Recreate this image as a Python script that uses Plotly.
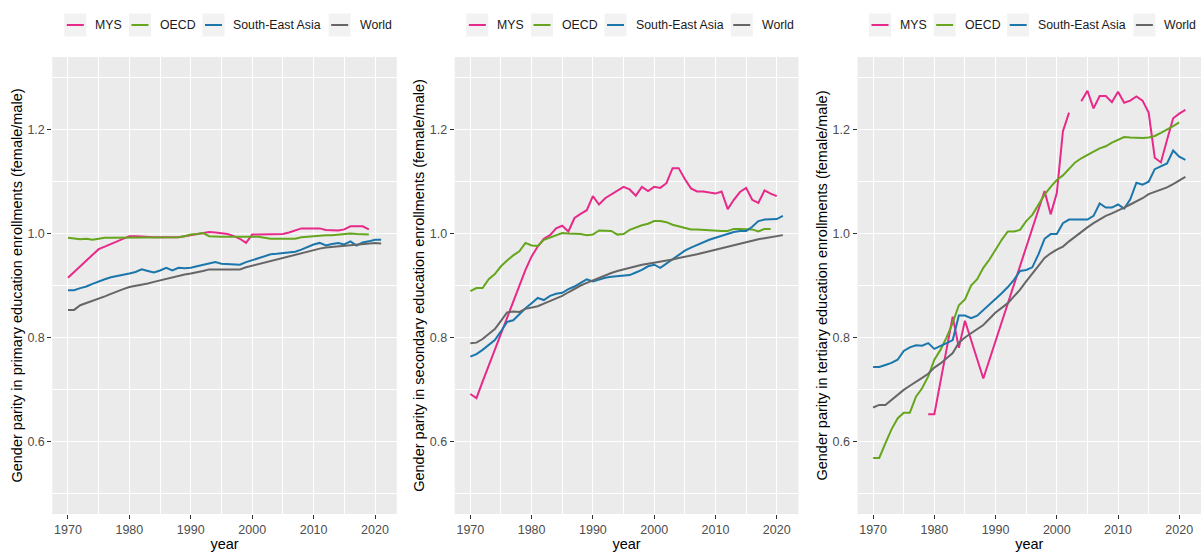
import plotly.graph_objects as go

# ---------------------------------------------------------------- data
series_names = ["MYS", "OECD", "South-East Asia", "World"]
series_colors = ["#E7298A", "#66A61E", "#1B76AB", "#666666"]

years_1970_2019 = list(range(1970, 2020))
years_1970_2020 = list(range(1970, 2021))
years_1970_2021 = list(range(1970, 2022))

# Primary education: female/male enrolment ratio
mys_primary = [
    0.915, 0.926, 0.937, 0.948, 0.959, 0.970, 0.975, 0.980, 0.984, 0.989,
    0.995, 0.995, 0.994, 0.993, 0.993, 0.993, 0.993, 0.993, 0.993, 0.995,
    0.997, 1.000, 1.002, 1.003, 1.002, 1.001, 0.999, 0.995, 0.990, 0.982,
    0.998, 0.998, 0.998, 0.998, 0.998, 0.999, 1.002, 1.006, 1.010, 1.010,
    1.010, 1.010, 1.007, 1.006, 1.006, 1.008, 1.014, 1.014, 1.014, 1.008,
]
oecd_primary = [
    0.992, 0.991, 0.989, 0.990, 0.988, 0.990, 0.992, 0.992, 0.992, 0.992,
    0.993, 0.993, 0.993, 0.993, 0.993, 0.993, 0.993, 0.993, 0.993, 0.995,
    0.998, 0.999, 1.001, 0.995, 0.994, 0.994, 0.994, 0.994, 0.994, 0.994,
    0.994, 0.994, 0.992, 0.990, 0.990, 0.990, 0.990, 0.990, 0.993, 0.994,
    0.996, 0.996, 0.997, 0.997, 0.998, 1.000, 1.000, 0.999, 0.998, 0.998,
]
sea_primary = [
    0.891, 0.891, 0.895, 0.898, 0.903, 0.908, 0.912, 0.916, 0.918, 0.920,
    0.923, 0.926, 0.931, 0.928, 0.925, 0.929, 0.934, 0.929, 0.934, 0.933,
    0.934, 0.937, 0.940, 0.943, 0.945, 0.942, 0.941, 0.940, 0.940, 0.945,
    0.949, 0.953, 0.956, 0.960, 0.961, 0.962, 0.963, 0.965, 0.969, 0.974,
    0.979, 0.982, 0.977, 0.980, 0.982, 0.979, 0.985, 0.977, 0.983, 0.985,
    0.988, 0.988,
]
world_primary = [
    0.853, 0.853, 0.862, 0.866, 0.870, 0.874, 0.879, 0.884, 0.889, 0.893,
    0.897, 0.899, 0.902, 0.904, 0.907, 0.910, 0.913, 0.916, 0.919, 0.921,
    0.923, 0.925, 0.928, 0.931, 0.931, 0.931, 0.931, 0.931, 0.931, 0.935,
    0.938, 0.941, 0.945, 0.948, 0.951, 0.954, 0.957, 0.960, 0.963, 0.966,
    0.969, 0.971, 0.973, 0.974, 0.975, 0.976, 0.977, 0.978, 0.979, 0.981,
    0.982, 0.981,
]

# Secondary education
mys_secondary = [
    0.691, 0.683, 0.715, 0.746, 0.777, 0.809, 0.840, 0.871, 0.900, 0.930,
    0.956, 0.975, 0.990, 0.997, 1.010, 1.015, 1.004, 1.030, 1.038, 1.045,
    1.072, 1.056, 1.068, 1.075, 1.082, 1.090, 1.085, 1.073, 1.090, 1.082,
    1.090, 1.088, 1.097, 1.126, 1.126, 1.105, 1.087, 1.081, 1.081, 1.079,
    1.077, 1.081, 1.047, 1.065, 1.080, 1.088, 1.065, 1.059, 1.083, 1.077,
    1.072,
]
oecd_secondary = [
    0.889, 0.895, 0.895, 0.912, 0.922, 0.937, 0.948, 0.958, 0.966, 0.982,
    0.977, 0.976, 0.988, 0.992, 0.997, 1.001, 1.000, 1.000, 0.999, 0.997,
    0.998, 1.006, 1.006, 1.005, 0.998, 0.999, 1.007, 1.012, 1.016, 1.019,
    1.024, 1.024, 1.022, 1.017, 1.014, 1.010, 1.008, 1.008, 1.007, 1.006,
    1.005, 1.005, 1.005, 1.009, 1.009, 1.009, 1.008, 1.004, 1.009, 1.009,
]
sea_secondary = [
    0.763, 0.768, 0.776, 0.785, 0.795, 0.812, 0.830, 0.833, 0.845, 0.856,
    0.866, 0.876, 0.872, 0.880, 0.884, 0.886, 0.893, 0.898, 0.905, 0.912,
    0.908, 0.912, 0.915, 0.917, 0.918, 0.920, 0.920, 0.925, 0.930, 0.937,
    0.940, 0.934, 0.942, 0.950, 0.958, 0.967, 0.973, 0.978, 0.984, 0.988,
    0.992, 0.996, 1.000, 1.003, 1.005, 1.005, 1.013, 1.024, 1.027, 1.027,
    1.028, 1.034,
]
world_secondary = [
    0.789, 0.790, 0.797, 0.806, 0.816, 0.832, 0.848, 0.850, 0.849, 0.855,
    0.858, 0.860, 0.865, 0.870, 0.874, 0.880, 0.887, 0.894, 0.900, 0.905,
    0.910, 0.915, 0.920, 0.924, 0.928, 0.931, 0.935, 0.937, 0.940, 0.942,
    0.944, 0.945, 0.947, 0.950, 0.953, 0.955, 0.957, 0.960, 0.963, 0.966,
    0.969, 0.972, 0.975, 0.978, 0.981, 0.984, 0.986, 0.989, 0.991, 0.993,
    0.995, 0.997,
]

# Tertiary education (Malaysia has gaps in its record)
mys_tertiary_years = [
    1979, 1980, 1983, 1984, 1985, 1988, 1998, 1999, 2000, 2001, 2002, 2003,
    2004, 2005, 2006, 2007, 2008, 2009, 2010, 2011, 2012, 2013, 2014, 2015,
    2016, 2017, 2018, 2019, 2020, 2021,
]
mys_tertiary = [
    0.652, 0.652, 0.840, 0.780, 0.832, 0.721, 1.082, 1.037, 1.078, 1.197,
    1.233, None, 1.255, 1.275, 1.241, 1.265, 1.265, 1.253, 1.273, 1.252,
    1.256, 1.264, 1.256, 1.233, 1.146, 1.137, 1.180, 1.222, 1.231, 1.238,
]
oecd_tertiary = [
    0.568, 0.568, 0.596, 0.623, 0.644, 0.655, 0.655, 0.686, 0.702, 0.725,
    0.757, 0.776, 0.800, 0.828, 0.862, 0.873, 0.900, 0.912, 0.934, 0.950,
    0.969, 0.988, 1.004, 1.004, 1.007, 1.024, 1.036, 1.055, 1.075, 1.090,
    1.103, 1.112, 1.125, 1.137, 1.145, 1.152, 1.158, 1.164, 1.168, 1.175,
    1.181, 1.186, 1.185, 1.184, 1.184, 1.185, 1.188, 1.194, 1.200, 1.207,
    1.214,
]
sea_tertiary = [
    0.743, 0.743, 0.747, 0.751, 0.757, 0.774, 0.781, 0.785, 0.784, 0.789,
    0.778, 0.783, 0.789, 0.795, 0.842, 0.842, 0.837, 0.842, 0.853, 0.863,
    0.873, 0.885, 0.897, 0.911, 0.928, 0.930, 0.935, 0.960, 0.990, 0.999,
    0.999, 1.020, 1.027, 1.027, 1.027, 1.027, 1.034, 1.058, 1.050, 1.050,
    1.056, 1.048, 1.066, 1.098, 1.094, 1.100, 1.124, 1.130, 1.135, 1.160,
    1.148, 1.142,
]
world_tertiary = [
    0.665, 0.670, 0.670, 0.680, 0.690, 0.699, 0.707, 0.714, 0.722, 0.730,
    0.742, 0.750, 0.760, 0.770, 0.790, 0.800, 0.808, 0.816, 0.824, 0.836,
    0.848, 0.857, 0.866, 0.879, 0.892, 0.908, 0.924, 0.938, 0.953, 0.962,
    0.969, 0.975, 0.985, 0.994, 1.004, 1.012, 1.020, 1.027, 1.034, 1.039,
    1.044, 1.050, 1.056, 1.062, 1.068, 1.076, 1.080, 1.085, 1.089, 1.095,
    1.102, 1.109,
]

panel_titles = [
    "Gender parity in primary education enrollments (female/male)",
    "Gender parity in secondary education enrollments (female/male)",
    "Gender parity in tertiary education enrollments (female/male)",
]
x_ticks = [1970, 1980, 1990, 2000, 2010, 2020]
y_ticks = [0.6, 0.8, 1.0, 1.2]
y_tick_labels = ["0.6", "0.8", "1.0", "1.2"]
y_minor = [0.5, 0.7, 0.9, 1.1, 1.3]

panels = [
    [
        (years_1970_2019, mys_primary),
        (years_1970_2019, oecd_primary),
        (years_1970_2021, sea_primary),
        (years_1970_2021, world_primary),
    ],
    [
        (years_1970_2020, mys_secondary),
        (years_1970_2019, oecd_secondary),
        (years_1970_2021, sea_secondary),
        (years_1970_2021, world_secondary),
    ],
    [
        (mys_tertiary_years, mys_tertiary),
        (years_1970_2020, oecd_tertiary),
        (years_1970_2021, sea_tertiary),
        (years_1970_2021, world_tertiary),
    ],
]

# ---------------------------------------------------------------- helpers
W, H = 1201, 552
FONT = "Liberation Sans, Arial, sans-serif"

# Arial / Liberation Sans advance widths (em) for the legend labels
_ADV = {
    "M": 0.833, "Y": 0.667, "S": 0.667, "O": 0.778, "E": 0.667, "C": 0.722,
    "D": 0.722, "W": 0.944, "A": 0.667, "o": 0.556, "u": 0.556, "t": 0.278,
    "h": 0.556, "-": 0.333, "a": 0.556, "s": 0.5, " ": 0.278, "i": 0.222,
    "r": 0.333, "l": 0.222, "d": 0.556,
}


def text_width(s, size):
    return sum(_ADV.get(c, 0.556) for c in s) * size


# ---------------------------------------------------------------- figure
x_domains = [(52.3, 396.8), (454.7, 798.5), (857.5, 1201.0)]
y_domain = [(H - 514) / H, (H - 57) / H]

LEG_SIZE = 12.3
KEY_W, KEY_H = 22, 23
KEY_GAP, ITEM_GAP = 8, 8
LEG_Y = 25

fig = go.Figure()
shapes, annotations = [], []

for p, traces in enumerate(panels):
    suffix = "" if p == 0 else str(p + 1)
    for (xs, ys), name, color in zip(traces, series_names, series_colors):
        fig.add_trace(go.Scatter(
            x=xs, y=ys, name=name, mode="lines",
            line=dict(color=color, width=2),
            connectgaps=False, showlegend=False,
            xaxis="x" + suffix, yaxis="y" + suffix,
        ))

    x0, x1 = x_domains[p]
    fig.layout["xaxis" + suffix] = dict(
        domain=[x0 / W, x1 / W], anchor="y" + suffix,
        range=[1967.45, 2023.55], tickvals=x_ticks,
        ticks="outside", ticklen=4, tickcolor="#333333", tickwidth=1,
        tickfont=dict(size=12.5, color="#4D4D4D", family=FONT),
        showgrid=True, gridcolor="white", gridwidth=1.1,
        minor=dict(dtick=5, tick0=1965, showgrid=True, gridcolor="white",
                   gridwidth=0.55, ticks=""),
        zeroline=False, showline=False,
        title=dict(text="year", font=dict(size=14.5, color="black", family=FONT),
                   standoff=2),
        automargin=False, fixedrange=True,
    )
    fig.layout["yaxis" + suffix] = dict(
        domain=y_domain, anchor="x" + suffix,
        range=[0.46, 1.34], tickvals=y_ticks, ticktext=y_tick_labels,
        ticks="outside", ticklen=4, tickcolor="#333333", tickwidth=1,
        tickfont=dict(size=12.5, color="#4D4D4D", family=FONT),
        showgrid=True, gridcolor="white", gridwidth=1.1,
        minor=dict(tickvals=y_minor, showgrid=True, gridcolor="white",
                   gridwidth=0.55, ticks=""),
        zeroline=False, showline=False,
        title=dict(text=panel_titles[p], font=dict(size=14.5, color="black", family=FONT),
                   standoff=1),
        automargin=False, fixedrange=True,
    )

    # legend row above the panel: grey key, coloured line, label
    widths = [text_width(n, LEG_SIZE) for n in series_names]
    total = sum(KEY_W + KEY_GAP + w for w in widths) + ITEM_GAP * (len(widths) - 1)
    cx = (x0 + x1) / 2 + 3
    left = cx - total / 2
    yc = (H - LEG_Y) / H
    for name, color, w in zip(series_names, series_colors, widths):
        shapes.append(dict(
            type="rect", xref="paper", yref="paper",
            x0=left / W, x1=(left + KEY_W) / W,
            y0=(H - LEG_Y - KEY_H / 2) / H, y1=(H - LEG_Y + KEY_H / 2) / H,
            fillcolor="#F2F2F2", line=dict(width=0), layer="below",
        ))
        shapes.append(dict(
            type="line", xref="paper", yref="paper",
            x0=(left + 2.5) / W, x1=(left + KEY_W - 2.5) / W, y0=yc, y1=yc,
            line=dict(color=color, width=2),
        ))
        annotations.append(dict(
            text=name, xref="paper", yref="paper",
            x=(left + KEY_W + KEY_GAP) / W, y=yc,
            xanchor="left", yanchor="middle", showarrow=False,
            font=dict(size=LEG_SIZE, color="#1A1A1A", family=FONT),
            xshift=-1,
        ))
        left += KEY_W + KEY_GAP + w + ITEM_GAP

fig.update_layout(
    width=W, height=H,
    margin=dict(l=0, r=0, t=0, b=0),
    paper_bgcolor="white", plot_bgcolor="#EBEBEB",
    font=dict(family=FONT),
    showlegend=False,
    shapes=shapes, annotations=annotations,
)

fig.write_html("out.html", include_plotlyjs=True, config={"displayModeBar": False})
